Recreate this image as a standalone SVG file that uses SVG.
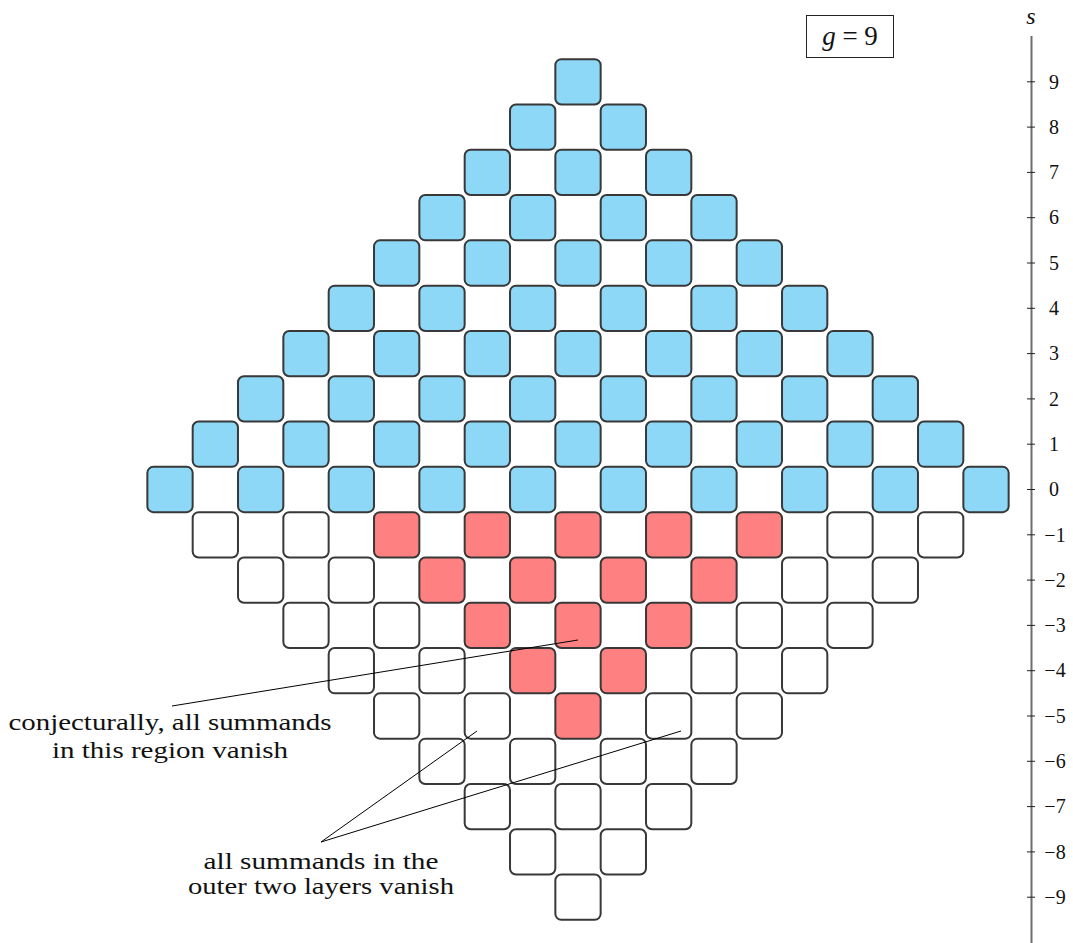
<svg xmlns="http://www.w3.org/2000/svg" xmlns:xlink="http://www.w3.org/1999/xlink" width="1073" height="943" viewBox="0 0 1073 943">
<style>
.b{fill:#8dd8f6}.r{fill:#ff8080}.w{fill:#ffffff}
.sq use{stroke:#383838;stroke-width:2}
.t{font-family:"Liberation Serif","DejaVu Serif",serif;fill:#111}
.ax{font-family:"Liberation Serif","DejaVu Serif",serif;font-size:20px;fill:#111;text-anchor:middle}
.ann{font-family:"Liberation Serif","DejaVu Serif",serif;font-size:23px;fill:#111;text-anchor:middle}
.ln{stroke:#000;stroke-width:1;fill:none}
</style>
<defs>
<rect id="sq" x="-22.65" y="-22.65" width="45.3" height="45.3" rx="6"/>
</defs>
<rect width="1073" height="943" fill="#fff"/>
<g class="sq">
<g id="row9"><use href="#sq" class="b" x="578" y="81.8"/></g>
<g id="row8"><use href="#sq" class="b" x="532.67" y="127.1"/><use href="#sq" class="b" x="623.33" y="127.1"/></g>
<g id="row7"><use href="#sq" class="b" x="487.33" y="172.4"/><use href="#sq" class="b" x="578" y="172.4"/><use href="#sq" class="b" x="668.67" y="172.4"/></g>
<g id="row6"><use href="#sq" class="b" x="442" y="217.7"/><use href="#sq" class="b" x="532.67" y="217.7"/><use href="#sq" class="b" x="623.33" y="217.7"/><use href="#sq" class="b" x="714" y="217.7"/></g>
<g id="row5"><use href="#sq" class="b" x="396.67" y="263"/><use href="#sq" class="b" x="487.33" y="263"/><use href="#sq" class="b" x="578" y="263"/><use href="#sq" class="b" x="668.67" y="263"/><use href="#sq" class="b" x="759.33" y="263"/></g>
<g id="row4"><use href="#sq" class="b" x="351.33" y="308.3"/><use href="#sq" class="b" x="442" y="308.3"/><use href="#sq" class="b" x="532.67" y="308.3"/><use href="#sq" class="b" x="623.33" y="308.3"/><use href="#sq" class="b" x="714" y="308.3"/><use href="#sq" class="b" x="804.67" y="308.3"/></g>
<g id="row3"><use href="#sq" class="b" x="306" y="353.6"/><use href="#sq" class="b" x="396.67" y="353.6"/><use href="#sq" class="b" x="487.33" y="353.6"/><use href="#sq" class="b" x="578" y="353.6"/><use href="#sq" class="b" x="668.67" y="353.6"/><use href="#sq" class="b" x="759.33" y="353.6"/><use href="#sq" class="b" x="850" y="353.6"/></g>
<g id="row2"><use href="#sq" class="b" x="260.67" y="398.9"/><use href="#sq" class="b" x="351.33" y="398.9"/><use href="#sq" class="b" x="442" y="398.9"/><use href="#sq" class="b" x="532.67" y="398.9"/><use href="#sq" class="b" x="623.33" y="398.9"/><use href="#sq" class="b" x="714" y="398.9"/><use href="#sq" class="b" x="804.67" y="398.9"/><use href="#sq" class="b" x="895.33" y="398.9"/></g>
<g id="row1"><use href="#sq" class="b" x="215.33" y="444.2"/><use href="#sq" class="b" x="306" y="444.2"/><use href="#sq" class="b" x="396.67" y="444.2"/><use href="#sq" class="b" x="487.33" y="444.2"/><use href="#sq" class="b" x="578" y="444.2"/><use href="#sq" class="b" x="668.67" y="444.2"/><use href="#sq" class="b" x="759.33" y="444.2"/><use href="#sq" class="b" x="850" y="444.2"/><use href="#sq" class="b" x="940.67" y="444.2"/></g>
<g id="row0"><use href="#sq" class="b" x="170" y="489.5"/><use href="#sq" class="b" x="260.67" y="489.5"/><use href="#sq" class="b" x="351.33" y="489.5"/><use href="#sq" class="b" x="442" y="489.5"/><use href="#sq" class="b" x="532.67" y="489.5"/><use href="#sq" class="b" x="623.33" y="489.5"/><use href="#sq" class="b" x="714" y="489.5"/><use href="#sq" class="b" x="804.67" y="489.5"/><use href="#sq" class="b" x="895.33" y="489.5"/><use href="#sq" class="b" x="986" y="489.5"/></g>
<g id="rowm1"><use href="#sq" class="w" x="215.33" y="534.8"/><use href="#sq" class="w" x="306" y="534.8"/><use href="#sq" class="r" x="396.67" y="534.8"/><use href="#sq" class="r" x="487.33" y="534.8"/><use href="#sq" class="r" x="578" y="534.8"/><use href="#sq" class="r" x="668.67" y="534.8"/><use href="#sq" class="r" x="759.33" y="534.8"/><use href="#sq" class="w" x="850" y="534.8"/><use href="#sq" class="w" x="940.67" y="534.8"/></g>
<g id="rowm2"><use href="#sq" class="w" x="260.67" y="580.1"/><use href="#sq" class="w" x="351.33" y="580.1"/><use href="#sq" class="r" x="442" y="580.1"/><use href="#sq" class="r" x="532.67" y="580.1"/><use href="#sq" class="r" x="623.33" y="580.1"/><use href="#sq" class="r" x="714" y="580.1"/><use href="#sq" class="w" x="804.67" y="580.1"/><use href="#sq" class="w" x="895.33" y="580.1"/></g>
<g id="rowm3"><use href="#sq" class="w" x="306" y="625.4"/><use href="#sq" class="w" x="396.67" y="625.4"/><use href="#sq" class="r" x="487.33" y="625.4"/><use href="#sq" class="r" x="578" y="625.4"/><use href="#sq" class="r" x="668.67" y="625.4"/><use href="#sq" class="w" x="759.33" y="625.4"/><use href="#sq" class="w" x="850" y="625.4"/></g>
<g id="rowm4"><use href="#sq" class="w" x="351.33" y="670.7"/><use href="#sq" class="w" x="442" y="670.7"/><use href="#sq" class="r" x="532.67" y="670.7"/><use href="#sq" class="r" x="623.33" y="670.7"/><use href="#sq" class="w" x="714" y="670.7"/><use href="#sq" class="w" x="804.67" y="670.7"/></g>
<g id="rowm5"><use href="#sq" class="w" x="396.67" y="716"/><use href="#sq" class="w" x="487.33" y="716"/><use href="#sq" class="r" x="578" y="716"/><use href="#sq" class="w" x="668.67" y="716"/><use href="#sq" class="w" x="759.33" y="716"/></g>
<g id="rowm6"><use href="#sq" class="w" x="442" y="761.3"/><use href="#sq" class="w" x="532.67" y="761.3"/><use href="#sq" class="w" x="623.33" y="761.3"/><use href="#sq" class="w" x="714" y="761.3"/></g>
<g id="rowm7"><use href="#sq" class="w" x="487.33" y="806.6"/><use href="#sq" class="w" x="578" y="806.6"/><use href="#sq" class="w" x="668.67" y="806.6"/></g>
<g id="rowm8"><use href="#sq" class="w" x="532.67" y="851.9"/><use href="#sq" class="w" x="623.33" y="851.9"/></g>
<g id="rowm9"><use href="#sq" class="w" x="578" y="897.2"/></g>
</g>
<g id="axis">
<line x1="1031.5" y1="36" x2="1031.5" y2="943" stroke="#6e6e6e" stroke-width="2"/>
<g stroke="#222" stroke-width="1">
<line x1="1027" y1="81.8" x2="1035" y2="81.8"/><line x1="1027" y1="127.1" x2="1035" y2="127.1"/><line x1="1027" y1="172.4" x2="1035" y2="172.4"/><line x1="1027" y1="217.7" x2="1035" y2="217.7"/><line x1="1027" y1="263" x2="1035" y2="263"/><line x1="1027" y1="308.3" x2="1035" y2="308.3"/><line x1="1027" y1="353.6" x2="1035" y2="353.6"/><line x1="1027" y1="398.9" x2="1035" y2="398.9"/><line x1="1027" y1="444.2" x2="1035" y2="444.2"/><line x1="1027" y1="489.5" x2="1035" y2="489.5"/><line x1="1027" y1="534.8" x2="1035" y2="534.8"/><line x1="1027" y1="580.1" x2="1035" y2="580.1"/><line x1="1027" y1="625.4" x2="1035" y2="625.4"/><line x1="1027" y1="670.7" x2="1035" y2="670.7"/><line x1="1027" y1="716" x2="1035" y2="716"/><line x1="1027" y1="761.3" x2="1035" y2="761.3"/><line x1="1027" y1="806.6" x2="1035" y2="806.6"/><line x1="1027" y1="851.9" x2="1035" y2="851.9"/><line x1="1027" y1="897.2" x2="1035" y2="897.2"/>
</g>
<text class="ax" x="1054" y="88.5">9</text><text class="ax" x="1054" y="133.8">8</text><text class="ax" x="1054" y="179.1">7</text><text class="ax" x="1054" y="224.4">6</text><text class="ax" x="1054" y="269.7">5</text><text class="ax" x="1054" y="315">4</text><text class="ax" x="1054" y="360.3">3</text><text class="ax" x="1054" y="405.6">2</text><text class="ax" x="1054" y="450.9">1</text><text class="ax" x="1054" y="496.2">0</text>
<text class="ax" x="1055" y="541.5">−1</text><text class="ax" x="1055" y="586.8">−2</text><text class="ax" x="1055" y="632.1">−3</text><text class="ax" x="1055" y="677.4">−4</text><text class="ax" x="1055" y="722.7">−5</text><text class="ax" x="1055" y="768">−6</text><text class="ax" x="1055" y="813.3">−7</text><text class="ax" x="1055" y="858.6">−8</text><text class="ax" x="1055" y="903.9">−9</text>
<text class="t" x="1031" y="24" font-size="24" font-style="italic" text-anchor="middle">s</text>
</g>
<g id="gbox">
<rect x="806.5" y="15.5" width="87" height="42" fill="#fff" stroke="#222" stroke-width="1"/>
<text class="t" x="850" y="45" font-size="27" text-anchor="middle"><tspan font-style="italic">g</tspan> = 9</text>
</g>
<g id="connectors">
<line class="ln" x1="172" y1="706" x2="578" y2="640"/>
<line class="ln" x1="321" y1="842" x2="477" y2="731"/>
<line class="ln" x1="321" y1="842" x2="681" y2="731"/>
</g>
<g id="note1">
<text class="ann" x="170" y="730" textLength="323" lengthAdjust="spacingAndGlyphs">conjecturally, all summands</text>
<text class="ann" x="170" y="758" textLength="236" lengthAdjust="spacingAndGlyphs">in this region vanish</text>
</g>
<g id="note2">
<text class="ann" x="321" y="869" font-size="22" textLength="235" lengthAdjust="spacingAndGlyphs">all summands in the</text>
<text class="ann" x="321" y="894" font-size="22" textLength="266" lengthAdjust="spacingAndGlyphs">outer two layers vanish</text>
</g>
</svg>
